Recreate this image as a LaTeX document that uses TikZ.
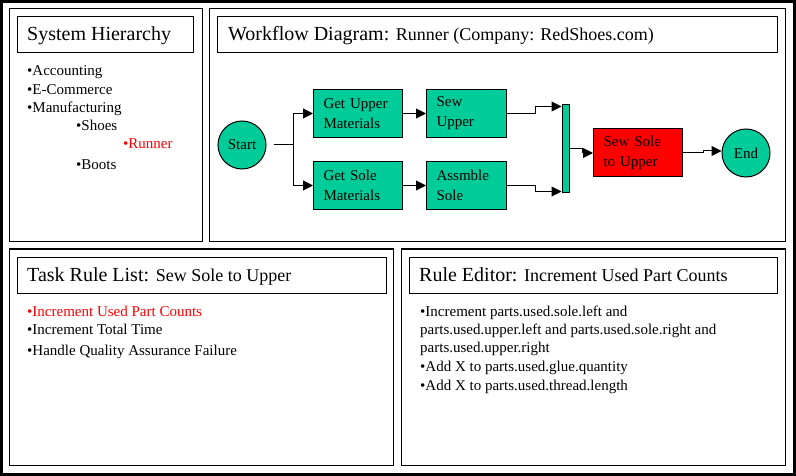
\documentclass[tikz,border=0pt]{standalone}
\usepackage{fontspec}
\setmainfont{Liberation Serif}
\usepackage{tikz}
\definecolor{wfgreen}{RGB}{0,204,153}
\definecolor{wfred}{RGB}{255,0,0}
\usetikzlibrary{positioning}
\usetikzlibrary{arrows.meta}
\tikzset{frame/.style={draw=black,line width=1pt}}
\tikzset{title/.style={anchor=base west,inner sep=0pt,font=\fontsize{20}{24}\selectfont}}
\tikzset{subtitle/.style={font=\fontsize{18}{22}\selectfont}}
\tikzset{item/.style={anchor=base west,inner sep=0pt,font=\fontsize{15}{18}\selectfont}}
\tikzset{task/.style={rectangle,draw=black,line width=1pt,fill=wfgreen,minimum height=48pt,inner xsep=10pt,inner ysep=0pt,align=left,font=\fontsize{15}{20}\selectfont}}
\tikzset{state/.style={circle,draw=black,line width=1pt,fill=wfgreen,minimum size=48pt,inner sep=0pt,font=\fontsize{15}{18}\selectfont}}
\tikzset{line/.style={black,>={Triangle[length=10pt,width=10pt]},line width=1pt}}

\begin{document}
\begin{tikzpicture}[x=1pt,y=-1pt]
        \useasboundingbox (0,0) rectangle (796,476);
        \draw[line width=6.5pt] (0,0) rectangle (796,476);
        % panels
        \draw[frame] (9,9) rectangle (202,242);
        \draw[frame] (209,9) rectangle (785,242);
        \draw[frame] (9,249) rectangle (393,465);
        \draw[frame] (401,249) rectangle (785,465);
        \draw[frame] (17,17) rectangle (193,53);
        \draw[frame] (217,17) rectangle (777,53);
        \draw[frame] (17,257) rectangle (386,293);
        \draw[frame] (409,257) rectangle (777,293);
        \node[title] (hiertitle) at (27,41) {System Hierarchy};
        \node[title] (flowtitle) at (228,41) {Workflow Diagram: {\fontsize{18}{22}\selectfont Runner (Company: RedShoes.com)}};
        \node[title] (ruletitle) at (27,281) {Task Rule List: {\fontsize{18}{22}\selectfont Sew Sole to Upper}};
        \node[title] (edittitle) at (419,281) {Rule Editor: {\fontsize{18}{22}\selectfont Increment Used Part Counts}};
        % hierarchy
        \node[item] (acct) at (27,76) {•Accounting};
        \node[item] (ecom) at (27,94.3) {•E-Commerce};
        \node[item] (manuf) at (27,112.7) {•Manufacturing};
        \node[item] (shoes) at (76,131) {•Shoes};
        \node[item,text=wfred] (runner) at (123,149) {•Runner};
        \node[item] (boots) at (76,170) {•Boots};
        % rule list
        \node[item,text=wfred] (rulea) at (27,316) {•Increment Used Part Counts};
        \node[item] (ruleb) at (27,334.3) {•Increment Total Time};
        \node[item] (rulec) at (27,355) {•Handle Quality Assurance Failure};
        % rule editor
        \node[item] (edita) at (420,316) {•Increment parts.used.sole.left and};
        \node[item] (editb) at (420,334.3) {parts.used.upper.left and parts.used.sole.right and};
        \node[item] (editc) at (420,352.7) {parts.used.upper.right};
        \node[item] (editd) at (420,371.7) {•Add X to parts.used.glue.quantity};
        \node[item] (edite) at (420,390.7) {•Add X to parts.used.thread.length};
        % workflow
        \node[state] (start) at (242,145) {Start};
        \node[task,text width=69pt,anchor=north west] (getupper) at (313,89) {Get Upper\\Materials};
        \node[task,text width=69pt,anchor=north west] (getsole) at (313,161) {Get Sole\\Materials};
        \node[task,text width=60pt,right=23pt of getupper] (sewupper) {Sew\\Upper};
        \node[task,text width=60pt,right=23pt of getsole] (assmble) {Assmble\\Sole};
        \node[rectangle,draw=black,line width=1pt,fill=wfgreen,minimum width=7pt,minimum height=88pt,inner sep=0pt] (joinbar) at (565.5,149) {};
        \node[task,text width=69pt,fill=wfred,anchor=west] (sewsole) at (593,153) {Sew Sole\\to Upper};
        \node[state] (endnode) at (746,153) {End};
        \draw[line,->] ([xshift=7pt]start.east) -- ++(20,0) |- (getupper.west);
        \draw[line,->] ([xshift=7pt]start.east) -- ++(20,0) |- (getsole.west);
        \draw[line,->] (getupper) -- (sewupper);
        \draw[line,->] (getsole) -- (assmble);
        \draw[line,->] (sewupper.east) -- ++(28,0) |- ([yshift=-2pt]joinbar.north west);
        \draw[line,->] (assmble.east) -- ++(28,0) |- ([yshift=2pt]joinbar.south west);
        \draw[line,->] (joinbar.east) -- ++(13,0) |- (sewsole.west);
        \draw[line,->] (sewsole.east) -- ++(20,0) |- ([yshift=2pt]endnode.west);
      \end{tikzpicture}
\end{document}
